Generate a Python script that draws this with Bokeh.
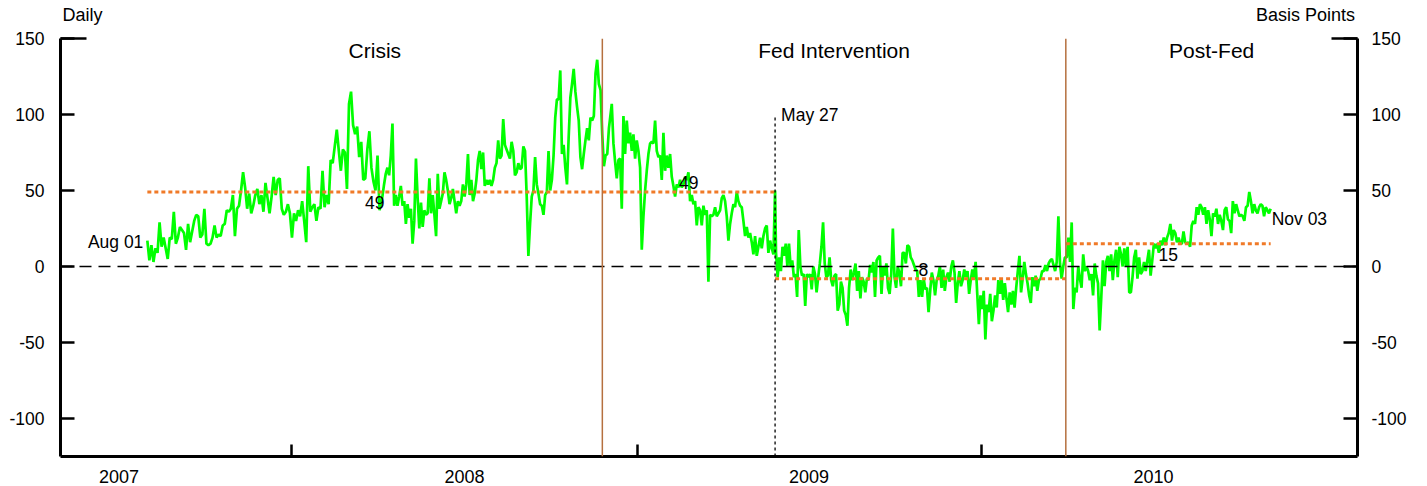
import pandas as pd
from bokeh.plotting import figure
from bokeh.models import (Range1d, LinearAxis, FixedTicker, DatetimeTickFormatter, Span,
                          CustomJSTickFormatter)
from bokeh.embed import file_html
from bokeh.resources import INLINE
from bokeh.core.properties import value

# ---------------- data ----------------
# daily spread (basis points), in consecutive pieces
seg_a_span = ("2007-08-01", "2008-04-03")
seg_a = [17, 4, 14, 3, 12, 9, 29, 13, 19, 12, 5, 19, 18, 36, 15, 19, 26, 24, 22, 11, 28, 16, 23, 30, 34, 33,
         19, 21, 38, 15, 14, 15, 19, 27, 19, 21, 20, 27, 28, 37, 36, 38, 47, 20, 38, 40, 50, 62, 52, 38, 48,
         35, 40, 47, 51, 41, 47, 36, 55, 45, 35, 46, 59, 47, 57, 58, 38, 34, 36, 41, 35, 19, 35, 30, 37, 33,
         43, 30, 16, 66, 36, 39, 41, 30, 39, 38, 63, 39, 47, 41, 70, 68, 79, 90, 76, 63, 77, 75, 51, 107, 115,
         93, 87, 92, 72, 82, 57, 58, 77, 89, 65, 56, 50, 73, 37]
seg_b_span = ("2008-04-06", "2008-12-02")
seg_b = [46, 54, 61, 65, 60, 73, 94, 40, 47, 40, 46, 53, 40, 43, 28, 41, 32, 38, 15, 30, 71, 45, 25, 42, 26,
         37, 34, 35, 58, 35, 47, 34, 20, 61, 38, 43, 48, 62, 57, 50, 41, 45, 51, 43, 35, 43, 40, 43, 54, 46,
         54, 74, 47, 57, 43, 48, 57, 70, 76, 64, 75, 53, 57, 54, 57, 53, 57, 65, 68, 83, 71, 73, 97, 80, 77,
         74, 71, 82, 76, 60, 62, 68, 64, 65, 79, 76, 46, 7, 28, 46, 50, 72, 54, 48, 41, 40, 34, 47, 49, 76,
         50, 57, 73, 98, 110, 110, 129, 74, 80, 65, 54, 85, 111, 120, 130, 115, 105, 96, 72, 64, 74, 83, 91,
         83, 98, 96, 99, 127, 136, 120, 116, 87, 66, 73, 74, 91]
seg_c_span = ("2008-12-05", "2009-05-27")
seg_c = [107, 81, 69, 58, 70, 71, 38, 99, 74, 96, 81, 88, 76, 87, 71, 83, 76, 65, 11, 33, 50, 63, 74, 81, 82,
         81, 96, 76, 72, 73, 57, 88, 63, 73, 65, 74, 59, 53, 46, 54, 52, 57, 52, 54, 59, 57, 62, 43, 47, 41,
         43, 27, 39, 37, 27, 40, 34, 37, -10, 34, 33, 34, 39, 33, 35, 37, 45, 47, 43, 33, 17, 28, 35, 41, 39,
         49, 43, 40, 39, 30, 20, 26, 19, 22, 16, 8, 20, 7, 13, 19, 12, 20, 25, 27, 9, 17, 12, 8, 50]
seg_d_span = ("2009-05-28", "2010-03-30")
seg_d = [9, -7, 6, -3, 13, 7, 15, 0, 15, 0, 4, -7, -5, -20, 24, 0, -6, -5, -26, -5, -7, -5, -15, 0, -5, -17,
         -7, 2, 13, 29, 2, -7, -6, 6, -9, -13, -6, -5, -29, -25, -10, -14, -29, -32, -39, -14, -2, -9, -4, 2,
         -16, -3, -21, -7, -10, -17, -8, -9, 1, -4, 3, -20, 4, 6, 7, -18, 0, -6, 2, -14, -18, -5, 25, -7, -14,
         0, -4, -13, 9, 9, 2, 14, 13, 6, 4, 1, -2, -3, -20, -9, -20, -8, -15, -14, -30, -16, -4, -9, -19, -9,
         -6, 0, -14, -2, -16, -7, -4, -10, 0, 4, -4, -24, -11, -3, -13, -9, -2, -7, -3, -18, -9, -2, -8, 3,
         -18, -38, -19, -28, -16, -48, -25, -30, -18, -36, -29, -19, -27, -9, -18, -8, -22, -11, -21, -30,
         -17, -25, -16, -27, -14, -3, 7, -17, -8, 3, -5, -11, -19, -24, -7, -13, -6, -16, -9, -8, -3, -3, 1,
         -3, 2, 4, 5, 1, -3, 3, 33, 2, -8, 0, 6]
seg_e_span = ("2010-04-01", "2010-11-03")
seg_e = [6, 19, 3, 29, -28, -14, -17, 0, -8, -14, 8, -3, 0, -3, -9, -5, -19, 2, -6, -11, -42, -20, 4, -13, 3,
         7, -3, 8, -9, 4, 11, -7, 13, 8, 0, 12, 0, 13, -17, -17, -7, 6, 11, -8, 6, -5, -3, 3, -3, 4, 11, -6,
         4, 15, 12, 15, 9, 17, 14, 19, 14, 19, 22, 28, 17, 24, 22, 16, 19, 15, 15, 23, 16, 15, 16, 13, 27, 30,
         28, 39, 34, 41, 39, 34, 39, 28, 37, 31, 20, 35, 33, 38, 28, 34, 30, 24, 37, 39, 31, 30, 22, 43, 35,
         41, 37, 33, 34, 33, 30, 39, 40, 49, 43, 35, 41, 37, 35, 39, 41, 40, 33, 39, 37, 35, 38]

# period boundaries and period means
period_names = ["Crisis", "Fed Intervention", "Post-Fed"]
period_bounds = ["2007-08-01", "2008-11-25", "2010-03-31", "2011-02-03"]
mean_starts = ["2007-08-01", "2008-11-25", "2009-05-27", "2010-03-31"]
mean_ends = ["2008-11-25", "2009-05-27", "2010-03-31", "2010-11-03"]
mean_values = [49, 49, -8, 15]
mean_labels = ["49", "49", "-8", "15"]
event_date = "2009-05-27"
event_label = "May 27"
start_label, end_label = "Aug 01", "Nov 03"
years = [2007, 2008, 2009, 2010]
y_ticks = [-100, -50, 0, 50, 100, 150]
corner_captions = ["Daily", "Basis Points"]

# ---------------- build series ----------------
dates, vals = [], []
for (s, e), v in [(seg_a_span, seg_a), (seg_b_span, seg_b), (seg_c_span, seg_c),
                  (seg_d_span, seg_d), (seg_e_span, seg_e)]:
    dates.extend(pd.date_range(s, e, periods=len(v)))
    vals.extend(v)

T = pd.Timestamp
ms = lambda d: T(d).timestamp() * 1000.0

FONT = "Liberation Sans"
SMALL = "17.5px"
GREEN = "#00ff00"
ORANGE = "#f07a28"
BROWN = "#b5703f"

W, H = 1427, 486
BL, BR, BT, BB = 60, 70, 38, 30
x_start, x_end = T("2007-05-01"), T("2011-02-03")
p = figure(width=W, height=H, x_axis_type="datetime",
           x_range=Range1d(x_start, x_end), y_range=Range1d(-125, 150),
           output_backend="svg", toolbar_location=None,
           min_border_left=BL, min_border_right=BR, min_border_top=BT, min_border_bottom=BB)
p.outline_line_color = None
p.xgrid.visible = False
p.ygrid.visible = False

# green series
p.line(dates, vals, line_color=GREEN, line_width=2.7)

# zero line
p.add_layout(Span(location=0, dimension="width", line_color="black",
                  line_width=1.5, line_dash="12 7"))

# period mean lines
p.segment(x0=[T(d) for d in mean_starts], y0=mean_values,
          x1=[T(d) for d in mean_ends], y1=mean_values,
          line_color=ORANGE, line_width=3, line_dash="4 3")

# period boundaries
for d in period_bounds[1:-1]:
    p.add_layout(Span(location=ms(d), dimension="height", line_color=BROWN, line_width=1.5))

# May 27 dotted line
p.segment(x0=[T(event_date)], y0=[-125], x1=[T(event_date)], y1=[98],
          line_color="black", line_width=1.3, line_dash="3 3")

txt = dict(text_font=value(FONT), text_font_size=SMALL, text_color="black")

# mean labels at mid-points of each mean segment
mids = [T(a) + (T(b) - T(a)) / 2 for a, b in zip(mean_starts, mean_ends)]
offs = [10, -10, -9, 11]
for m, v, lab, o in zip(mids, mean_values, mean_labels, offs):
    p.text(x=[m], y=[v], text=[lab], text_align="center", text_baseline="middle", y_offset=o, **txt)

# period names
pmids = [T(a) + (T(b) - T(a)) / 2 for a, b in zip(period_bounds[:-1], period_bounds[1:])]
p.text(x=pmids, y=[142] * 3, text=period_names, text_align="center", text_baseline="middle",
       text_font=value(FONT), text_font_size="21px", text_color="black")

# event / endpoints labels
p.text(x=[T(event_date)], y=[100], text=[event_label], text_align="left", text_baseline="middle",
       x_offset=6, **txt)
p.text(x=[dates[0]], y=[vals[0]], text=[start_label], text_align="right", text_baseline="middle",
       x_offset=-4, y_offset=1, **txt)
p.text(x=[dates[-1]], y=[vals[-1]], text=[end_label], text_align="left", text_baseline="middle",
       x_offset=1, y_offset=10, **txt)

# axes
def style_y(ax, standoff):
    ax.ticker = FixedTicker(ticks=y_ticks, minor_ticks=[150])
    ax.major_label_overrides = {t: str(t) for t in y_ticks}
    ax.axis_line_width = 3
    ax.major_tick_line_width = 2.5
    ax.major_tick_in = 14
    ax.major_tick_out = 0
    ax.minor_tick_line_width = 2.5
    ax.minor_tick_in = 26
    ax.minor_tick_out = 0
    ax.major_label_standoff = standoff
    ax.major_label_text_font = FONT
    ax.major_label_text_font_size = SMALL
    ax.major_label_text_color = "black"

style_y(p.yaxis[0], 16)
right = LinearAxis()
style_y(right, 14)
p.add_layout(right, "right")

xa = p.xaxis[0]
xa.ticker = FixedTicker(ticks=[ms(f"{y}-07-02") for y in years],
                        minor_ticks=[ms(f"{y}-01-01") for y in years[1:]])
xa.formatter = DatetimeTickFormatter(days="%Y", months="%Y", years="%Y")
xa.axis_line_width = 3
xa.major_tick_line_color = None
xa.major_tick_in = 0
xa.major_tick_out = 0
xa.minor_tick_line_width = 2.5
xa.minor_tick_in = 12
xa.minor_tick_out = 0
xa.major_label_standoff = 13
xa.major_label_text_font = FONT
xa.major_label_text_font_size = "18px"
xa.major_label_text_color = "black"

# corner captions ("Daily" / "Basis Points") as labels of an axis above the frame
x0_ms, x1_ms = ms(x_start), ms(x_end)
ms_per_px = (x1_ms - x0_ms) / (W - BL - BR)
cap_ticks = [x0_ms + 22 * ms_per_px, x1_ms - 52 * ms_per_px]
top = LinearAxis(ticker=FixedTicker(ticks=cap_ticks),
                 formatter=CustomJSTickFormatter(args=dict(labels=corner_captions),
                                                 code="return labels[index];"))
top.axis_line_color = None
top.major_tick_line_color = None
top.minor_tick_line_color = None
top.major_tick_in = 0
top.major_tick_out = 0
top.major_label_standoff = 14
top.major_label_text_font = FONT
top.major_label_text_font_size = "18px"
top.major_label_text_color = "black"
p.add_layout(top, "above")

open("out.html", "w").write(file_html(p, INLINE))
